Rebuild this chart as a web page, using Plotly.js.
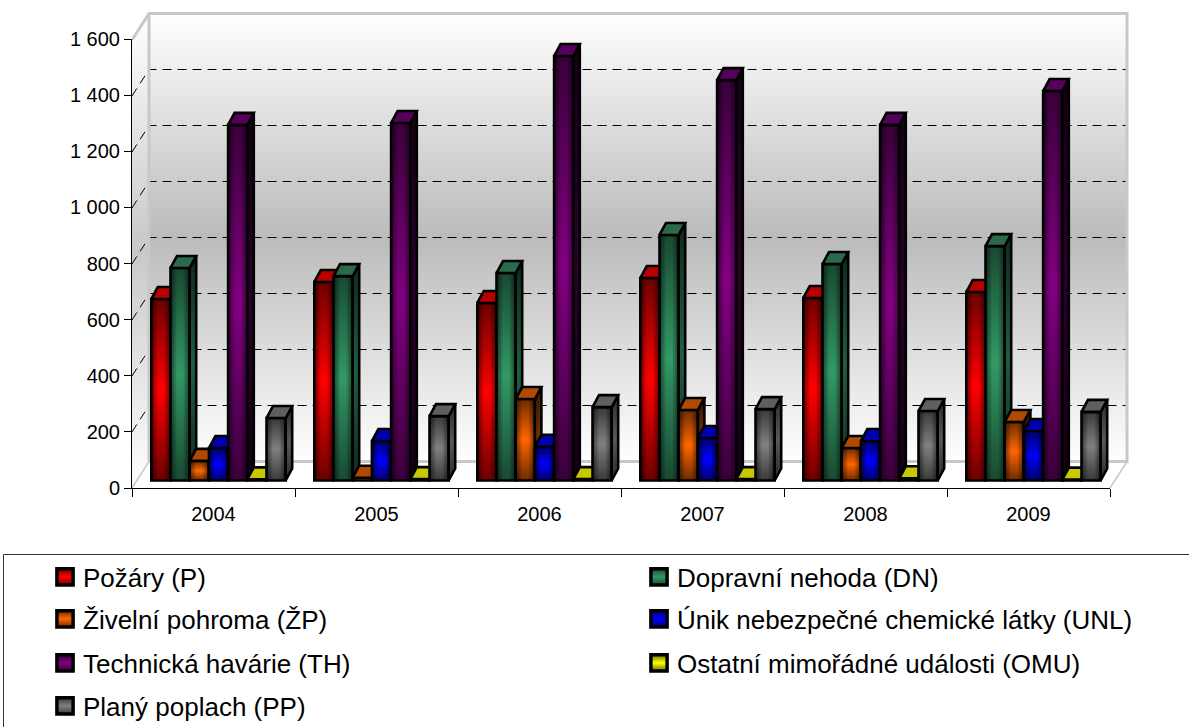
<!DOCTYPE html>
<html><head><meta charset="utf-8">
<script src="https://cdn.plot.ly/plotly-3.0.1.min.js"></script>
<style>html,body{margin:0;padding:0;background:#fff;overflow:hidden}#c{width:1189px;height:727px}</style>
</head><body><div id="c"></div>
<script>
const years = ['2004','2005','2006','2007','2008','2009'];
const pozary = [648, 709, 634, 723, 652, 673];
const dopravni = [759, 730, 741, 877, 773, 837];
const zivelni = [70, 10, 291, 252, 116, 209];
const unik = [116, 141, 120, 152, 141, 177];
const technicka = [1270, 1277, 1516, 1430, 1270, 1391];
const ostatni = [4, 5, 5, 5, 8, 3];
const plany = [223, 230, 262, 255, 248, 245];
const seriesNames = ['Požáry (P)','Dopravní nehoda (DN)','Živelní pohroma (ŽP)','Únik nebezpečné chemické látky (UNL)','Technická havárie (TH)','Ostatní mimořádné události (OMU)','Planý poplach (PP)'];
const yTicks = [0,200,400,600,800,1000,1200,1400,1600];
const yTickText = ['0','200','400','600','800','1 000','1 200','1 400','1 600'];
const gridVals = [200,400,600,800,1000,1200,1400];

const seriesValues = [pozary,dopravni,zivelni,unik,technicka,ostatni,plany];
const bright = ['#ff0000','#339966','#ff6600','#0000ff','#800080','#ffff00','#808080'];
const dark   = ['#6e0000','#184a32','#6e2c00','#00006e','#3a003a','#6e6e00','#3a3a3a'];
const topCol = ['#b80000','#2a6a4a','#b04a00','#0000b0','#55005a','#c8c800','#5f5f5f'];
const sideMid= ['#5a0000','#1f5f40','#703000','#000070','#2a002a','#808000','#585858'];
const sideEnd= ['#280000','#0c2a1c','#351500','#000035','#140014','#404000','#2a2a2a'];

const W=1189,H=727, UX=163, UY=0.28;
const L=132, B=488, R=1129, T=12;
const px=d=>d/UX, py=d=>d/UY;
const wx=px(17), wy=py(26.5);          // wall offset
const fx=px(5), fy=py(7.5);            // bar front plane
const dx=px(6.5), dy=py(12);           // bar depth
const bw=px(19.2);
const xMax=(R-L)/UX, yMax=(B-T)/UY;

const traces=[];
const lineless={mode:'lines',line:{width:0},hoverinfo:'skip',showlegend:false};
const wallScale=[[0,'#ffffff'],[0.5,'#bbbbbb'],[1,'#ffffff']];
// back wall
traces.push({...lineless,x:[wx,6+wx,6+wx,wx,wx],y:[wy,wy,1600+wy,1600+wy,wy],fill:'toself',fillcolor:'#ccc',fillgradient:{type:'vertical',colorscale:wallScale},cliponaxis:false});
// side wall
traces.push({...lineless,x:[0,wx,wx,0,0],y:[0,wy,1600+wy,1600,0],fill:'toself',fillcolor:'#eee',fillgradient:{type:'vertical',colorscale:[[0,'#ffffff'],[0.5,'#c8c8c8'],[1,'#ffffff']]},cliponaxis:false});
// gridlines on back wall and side wall
let gx=[],gy=[];
gridVals.forEach(v=>{gx.push(0,wx,6+wx,null);gy.push(v,v+wy,v+wy,null);});
traces.push({mode:'lines',x:gx,y:gy,line:{color:'#000',width:1,dash:'9px,6px'},hoverinfo:'skip',showlegend:false,cliponaxis:false});
// wall frame
traces.push({mode:'lines',x:[wx,wx,null,0,wx,6+wx,6+wx,wx],y:[wy,1600+wy,null,1600,1600+wy,1600+wy,wy,wy],line:{color:'#c8c8c8',width:3},hoverinfo:'skip',showlegend:false,cliponaxis:false});
traces.push({mode:'lines',x:[0,wx,null,6,6+wx],y:[0,wy,null,0,wy],line:{color:'#c8c8c8',width:1.5},hoverinfo:'skip',showlegend:false,cliponaxis:false});

const axes={};
const base={visible:false,fixedrange:true};
axes.xaxis={...base,domain:[L/W,R/W],range:[0,xMax]};
axes.yaxis={...base,domain:[(H-B)/H,(H-T)/H],range:[0,yMax]};

seriesValues.forEach((vals,s)=>{
  const n=s+2, xa='x'+n, ya='y'+n;
  axes['xaxis'+n]={...base,overlaying:'x',range:[0,xMax]};
  axes['yaxis'+n]={...base,overlaying:'y',range:[0,yMax]};
  const xs=vals.map((v,c)=>c+0.5+(s-3)*bw+fx);
  traces.push({type:'bar',x:xs,y:vals,base:vals.map(()=>fy),width:bw,xaxis:xa,yaxis:ya,name:seriesNames[s],
    marker:{color:bright[s],line:{color:'#000',width:2.6}},hoverinfo:'skip',
    legend:s===0?'legend':'legend'+(s+1),showlegend:true,cliponaxis:false});
  let tx=[],ty=[];
  vals.forEach((v,c)=>{
    const xl=xs[c]-bw/2,xr=xs[c]+bw/2,t=fy+v;
    tx.push(xl,xr,xr+dx,xl+dx,xl,null);
    ty.push(t,t,t+dy,t+dy,t,null);
    traces.push({mode:'lines',x:[xr,xr,xr+dx,xr+dx,xr],y:[fy,t,t+dy,fy+dy,fy],xaxis:xa,yaxis:ya,
      line:{color:'#000',width:2.6,join:'miter'},fill:'toself',fillcolor:sideMid[s],
      fillgradient:{type:'vertical',colorscale:[[0,sideEnd[s]],[0.5,sideMid[s]],[1,sideEnd[s]]]},
      hoverinfo:'skip',showlegend:false,cliponaxis:false});
  });
  traces.push({mode:'lines',x:tx,y:ty,xaxis:xa,yaxis:ya,line:{color:'#000',width:2.6,join:'miter'},
    fill:'toself',fillcolor:topCol[s],hoverinfo:'skip',showlegend:false,cliponaxis:false});
});

// visible front axes
traces.push({x:[0],y:[0],mode:'markers',marker:{opacity:0},xaxis:'x9',yaxis:'y9',hoverinfo:'skip',showlegend:false});
const tfont={family:'Liberation Sans, Arial, sans-serif',size:20,color:'#000'};
axes.xaxis9={domain:[L/W,1110/W],range:[0,6],anchor:'y9',fixedrange:true,showgrid:false,zeroline:false,showline:true,linecolor:'#000',linewidth:1,
  tickmode:'array',tickvals:years.map((y,i)=>i+0.5),ticktext:years,ticks:'',tickfont:tfont,ticklabelstandoff:8,
  minor:{tickmode:'array',tickvals:[0,1,2,3,4,5,6],ticks:'outside',ticklen:8,tickcolor:'#000',tickwidth:1,showgrid:false}};
axes.yaxis9={domain:[(H-B)/H,(H-39)/H],range:[0,1600],anchor:'x9',fixedrange:true,showgrid:false,zeroline:false,showline:true,linecolor:'#000',linewidth:1,
  tickmode:'array',tickvals:yTicks,ticktext:yTickText,ticks:'outside',ticklen:7,tickcolor:'#000',tickwidth:1,tickfont:tfont};

const lfont={family:'Liberation Sans, Arial, sans-serif',size:26,color:'#000'};
const legX=[43,637], legY=[577,619,663,706];
const legends={};
seriesNames.forEach((nm,s)=>{
  const key=s===0?'legend':'legend'+(s+1);
  legends[key]={x:legX[s%2]/W,y:1-legY[Math.floor(s/2)]/H,xanchor:'left',yanchor:'middle',bgcolor:'rgba(0,0,0,0)',borderwidth:0,font:lfont,itemclick:false,itemdoubleclick:false};
});

const layout={width:W,height:H,margin:{l:0,r:0,t:0,b:0,pad:0,autoexpand:false},paper_bgcolor:'#fff',plot_bgcolor:'rgba(0,0,0,0)',
  barmode:'overlay',showlegend:true,...axes,...legends,
  shapes:[{type:'rect',xref:'paper',yref:'paper',x0:3.5/W,x1:1.01,y0:-0.01,y1:1-554.5/H,line:{color:'#333',width:1},fillcolor:'rgba(0,0,0,0)'}]};

Plotly.newPlot('c',traces,layout,{displayModeBar:false,responsive:false}).then(gd=>{
  const svg=gd.querySelector('svg.main-svg');
  const NS='http://www.w3.org/2000/svg';
  const defs=svg.querySelector('defs')||svg.insertBefore(document.createElementNS(NS,'defs'),svg.firstChild);
  const toRgb=h=>'rgb('+parseInt(h.slice(1,3),16)+', '+parseInt(h.slice(3,5),16)+', '+parseInt(h.slice(5,7),16)+')';
  const mk=(id,attrs,stops,tag)=>{
    const g=document.createElementNS(NS,tag);g.setAttribute('id',id);
    Object.keys(attrs).forEach(k=>g.setAttribute(k,attrs[k]));
    stops.forEach(st=>{const e=document.createElementNS(NS,'stop');e.setAttribute('offset',st[0]);e.setAttribute('stop-color',st[1]);e.setAttribute('stop-opacity',st[2]===undefined?1:st[2]);g.appendChild(e);});
    defs.appendChild(g);
  };
  bright.forEach((c,i)=>mk('barg'+i,{x1:0,y1:0,x2:0,y2:1},[[0,dark[i]],[0.5,c],[1,dark[i]]],'linearGradient'));
  mk('baredge',{x1:0,y1:0,x2:1,y2:0},[[0,'#000',0.55],[0.35,'#000',0],[0.65,'#000',0],[1,'#000',0.55]],'linearGradient');
  gd.querySelectorAll('.barlayer path').forEach(p=>{
    const i=bright.findIndex(c=>toRgb(c)===p.style.fill);
    if(i<0)return;
    p.style.fill='url(#barg'+i+')';
    const o=p.cloneNode(true);
    o.style.fill='url(#baredge)';o.style.stroke='none';o.style.strokeWidth='0';
    p.parentNode.appendChild(o);
  });
  gd.querySelectorAll('.infolayer .legendpoints path').forEach(p=>{
    const i=bright.findIndex(c=>toRgb(c)===p.style.fill);
    if(i>=0)p.style.fill='url(#barg'+i+')';
    p.setAttribute('transform','translate(22,0) scale(1.35)');
  });
});
</script></body></html>
